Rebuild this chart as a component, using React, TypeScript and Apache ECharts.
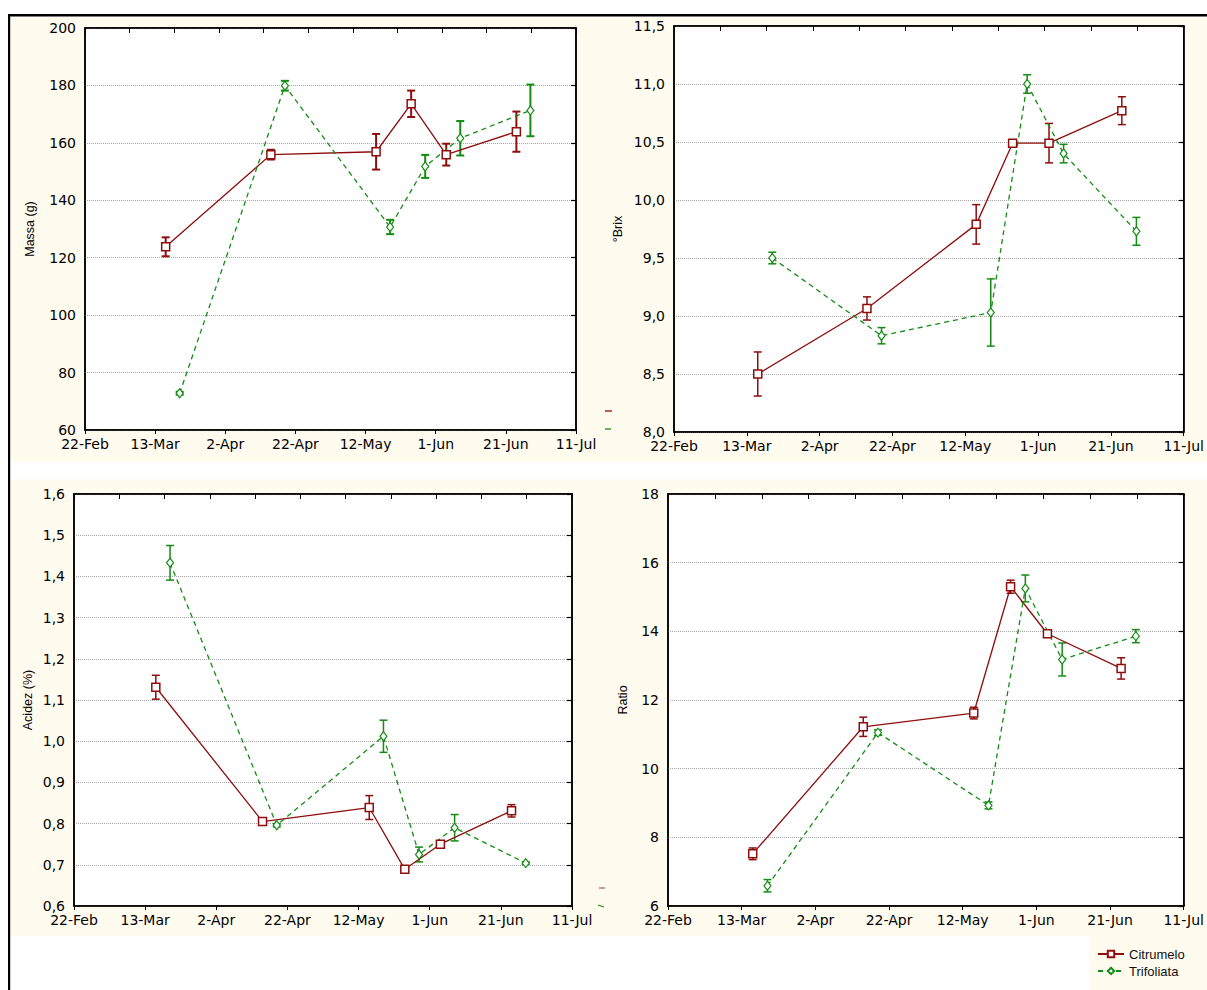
import React, { useEffect, useRef } from "react";
import * as echarts from "echarts";

// ---------- DATA ----------
const tickLabels = ["22-Feb", "13-Mar", "2-Apr", "22-Apr", "12-May", "1-Jun", "21-Jun", "11-Jul"];
const baseDate = "2008-02-22";
const citrumeloDates = ["2008-03-16", "2008-04-15", "2008-05-15", "2008-05-25", "2008-06-04", "2008-06-24"];
const trifoliataDates = ["2008-03-20", "2008-04-19", "2008-05-19", "2008-05-29", "2008-06-08", "2008-06-28"];

const massaCitrumelo = [123.8, 155.9, 156.9, 173.6, 155.9, 163.9];
const massaCitrumeloErr = [3.3, 1.7, 6.2, 4.6, 3.8, 7.0];
const massaTrifoliata = [72.8, 179.9, 130.7, 151.8, 161.6, 171.3];
const massaTrifoliataErr = [0.5, 1.7, 2.5, 4.0, 6.0, 9.0];

const brixCitrumelo = [8.5, 9.065, 9.79, 10.49, 10.49, 10.77];
const brixCitrumeloErr = [0.19, 0.1, 0.17, 0.02, 0.17, 0.12];
const brixTrifoliata = [9.5, 8.83, 9.03, 11.0, 10.4, 9.73];
const brixTrifoliataErr = [0.05, 0.07, 0.29, 0.08, 0.08, 0.12];

const acidezCitrumelo = [1.131, 0.805, 0.839, 0.689, 0.75, 0.831];
const acidezCitrumeloErr = [0.029, 0.007, 0.029, 0.006, 0.005, 0.015];
const acidezTrifoliata = [1.433, 0.796, 1.012, 0.725, 0.79, 0.704];
const acidezTrifoliataErr = [0.042, 0.004, 0.039, 0.018, 0.032, 0.003];

const ratioCitrumelo = [7.52, 11.22, 11.62, 15.3, 13.93, 12.92];
const ratioCitrumeloErr = [0.17, 0.28, 0.17, 0.19, 0.1, 0.31];
const ratioTrifoliata = [6.59, 11.05, 8.93, 15.25, 13.18, 13.86];
const ratioTrifoliataErr = [0.18, 0.08, 0.1, 0.39, 0.48, 0.19];

const seriesNames = ["Citrumelo", "Trifoliata"];

// ---------- STYLE ----------
const RED = "#8e0d0d";
const GREEN = "#138c13";
const CREAM = "#fffbef";
const TICK_FONT = "DejaVu Sans";
const TITLE_FONT = "Liberation Sans";

function dayOffset(d: string): number {
  return Math.round((Date.parse(d) - Date.parse(baseDate)) / 86400000);
}

const cx = citrumeloDates.map(dayOffset);
const tx = trifoliataDates.map(dayOffset);

const panels = [
  {
    title: "Massa (g)", c: massaCitrumelo, ce: massaCitrumeloErr, t: massaTrifoliata, te: massaTrifoliataErr,
    min: 60, max: 200, interval: 20, dec: 0,
    grid: { left: 85, top: 28, width: 491, height: 402 }, nameGap: 49, errW: 2,
  },
  {
    title: "°Brix", c: brixCitrumelo, ce: brixCitrumeloErr, t: brixTrifoliata, te: brixTrifoliataErr,
    min: 8, max: 11.5, interval: 0.5, dec: 1,
    grid: { left: 674, top: 26, width: 518, height: 406 }, nameGap: 50, errW: 1.5,
  },
  {
    title: "Acidez (%)", c: acidezCitrumelo, ce: acidezCitrumeloErr, t: acidezTrifoliata, te: acidezTrifoliataErr,
    min: 0.6, max: 1.6, interval: 0.1, dec: 1,
    grid: { left: 74, top: 494, width: 498, height: 412 }, nameGap: 40, errW: 1.5,
  },
  {
    title: "Ratio", c: ratioCitrumelo, ce: ratioCitrumeloErr, t: ratioTrifoliata, te: ratioTrifoliataErr,
    min: 6, max: 18, interval: 2, dec: 0,
    grid: { left: 668, top: 494, width: 527, height: 412 }, nameGap: 39, errW: 1.5,
  },
];

function errorSeries(xs: number[], ys: number[], es: number[], color: string, lw: number, i: number) {
  return {
    type: "custom",
    xAxisIndex: 2 * i,
    yAxisIndex: 2 * i,
    z: 2,
    silent: true,
    encode: { x: 0, y: [1, 2] },
    data: ys.map((v, k) => [xs[k], v - es[k], v + es[k]]),
    renderItem: (params: any, api: any) => {
      const x = api.value(0);
      const lo = api.coord([x, api.value(1)]);
      const hi = api.coord([x, api.value(2)]);
      const w = 4;
      const style = { stroke: color, lineWidth: lw };
      return {
        type: "group",
        children: [
          { type: "line", shape: { x1: lo[0], y1: lo[1], x2: hi[0], y2: hi[1] }, style },
          { type: "line", shape: { x1: lo[0] - w, y1: lo[1], x2: lo[0] + w, y2: lo[1] }, style },
          { type: "line", shape: { x1: hi[0] - w, y1: hi[1], x2: hi[0] + w, y2: hi[1] }, style },
        ],
      };
    },
  };
}

function buildOption() {
  const grid: any[] = [];
  const xAxis: any[] = [];
  const yAxis: any[] = [];
  const series: any[] = [];
  const axisLine = { show: true, onZero: false, lineStyle: { color: "#000", width: 1.5 } };

  panels.forEach((p, i) => {
    grid.push({ ...p.grid, show: true, backgroundColor: "#ffffff", borderColor: "#000", borderWidth: 1.5 });
    xAxis.push({
      type: "value", gridIndex: i, min: 0, max: 140, interval: 20, position: "bottom",
      axisLine,
      axisTick: { show: true, inside: false, length: 4, lineStyle: { color: "#000", width: 1 } },
      axisLabel: {
        formatter: (v: number) => tickLabels[Math.round(v / 20)] ?? "",
        fontFamily: TICK_FONT, fontSize: 14, color: "#000", margin: 7,
        showMinLabel: true, showMaxLabel: true,
      },
      splitLine: { show: false },
    });
    xAxis.push({
      type: "value", gridIndex: i, min: 0, max: 11, interval: 1, position: "top",
      axisLine,
      axisTick: { show: true, inside: true, length: 5, lineStyle: { color: "#000", width: 1 } },
      axisLabel: { show: false },
      splitLine: { show: false },
    });
    yAxis.push({
      type: "value", gridIndex: i, min: p.min, max: p.max, interval: p.interval, position: "left",
      name: p.title, nameLocation: "middle", nameGap: p.nameGap, nameRotate: 90,
      nameTextStyle: { fontFamily: TITLE_FONT, fontSize: 12.5, color: "#000" },
      axisLine,
      axisTick: { show: false },
      axisLabel: {
        formatter: (v: number) => v.toFixed(p.dec).replace(".", ","),
        fontFamily: TICK_FONT, fontSize: 14, color: "#000", margin: 9,
        showMinLabel: true, showMaxLabel: true,
      },
      splitLine: { show: true, lineStyle: { type: "dotted", color: "#a6a6a6", width: 1 } },
    });
    yAxis.push({
      type: "value", gridIndex: i, min: p.min, max: p.max, interval: p.interval, position: "right",
      axisLine,
      axisTick: { show: true, inside: true, length: 5, lineStyle: { color: "#000", width: 1.2 } },
      axisLabel: { show: false },
      splitLine: { show: false },
    });

    series.push(errorSeries(cx, p.c, p.ce, RED, p.errW, i));
    series.push(errorSeries(tx, p.t, p.te, GREEN, p.errW, i));
    series.push({
      type: "line", name: seriesNames[0], xAxisIndex: 2 * i, yAxisIndex: 2 * i, z: 3,
      data: p.c.map((v, k) => [cx[k], v]),
      color: RED,
      symbol: "rect", symbolSize: 8, showSymbol: true,
      lineStyle: { color: RED, width: 1.3, type: "solid" },
      itemStyle: { color: "#ffffff", borderColor: RED, borderWidth: 1.5 },
    });
    series.push({
      type: "line", name: seriesNames[1], xAxisIndex: 2 * i, yAxisIndex: 2 * i, z: 3,
      data: p.t.map((v, k) => [tx[k], v]),
      color: GREEN,
      symbol: "diamond", symbolSize: [7, 9], showSymbol: true,
      lineStyle: { color: GREEN, width: 1.3, type: [5, 4] },
      itemStyle: { color: "#ffffff", borderColor: GREEN, borderWidth: 1.2 },
    });
  });

  const graphic: any[] = [
    { type: "rect", z: -100, shape: { x: 10, y: 17, width: 1197, height: 445 }, style: { fill: CREAM } },
    { type: "rect", z: -100, shape: { x: 10, y: 479, width: 1197, height: 457 }, style: { fill: CREAM } },
    { type: "rect", z: -100, shape: { x: 1090, y: 936, width: 117, height: 54 }, style: { fill: CREAM } },
    { type: "rect", z: 100, shape: { x: 8, y: 14, width: 1199, height: 2.5 }, style: { fill: "#000" } },
    { type: "rect", z: 100, shape: { x: 8, y: 14, width: 2.2, height: 976 }, style: { fill: "#000" } },
    // clipped legend fragments
    { type: "line", z: 100, shape: { x1: 605, y1: 411, x2: 612, y2: 411 }, style: { stroke: RED, lineWidth: 1.3 } },
    { type: "line", z: 100, shape: { x1: 605, y1: 429, x2: 611, y2: 429 }, style: { stroke: GREEN, lineWidth: 1.3 } },
    { type: "line", z: 100, shape: { x1: 599, y1: 888, x2: 605, y2: 888 }, style: { stroke: RED, lineWidth: 1.2, opacity: 0.7 } },
    { type: "line", z: 100, shape: { x1: 598, y1: 905, x2: 604, y2: 907 }, style: { stroke: GREEN, lineWidth: 1.2 } },
  ];

  return {
    animation: false,
    backgroundColor: "#ffffff",
    grid,
    xAxis,
    yAxis,
    series,
    graphic,
    legend: {
      data: seriesNames,
      orient: "vertical",
      left: 1097,
      top: 947,
      padding: 0,
      itemWidth: 26,
      itemHeight: 8,
      itemGap: 3,
      selectedMode: false,
      textStyle: { fontFamily: TITLE_FONT, fontSize: 13, color: "#111", lineHeight: 14 },
    },
  };
}

export default function App() {
  const ref = useRef<HTMLDivElement>(null);
  useEffect(() => {
    if (!ref.current) return;
    const chart = echarts.init(ref.current, undefined, { renderer: "svg" });
    chart.setOption(buildOption() as any);
    return () => chart.dispose();
  }, []);
  return (
    <div
      ref={ref}
      style={{ position: "absolute", left: 0, top: 0, width: 1207, height: 990 }}
    />
  );
}
